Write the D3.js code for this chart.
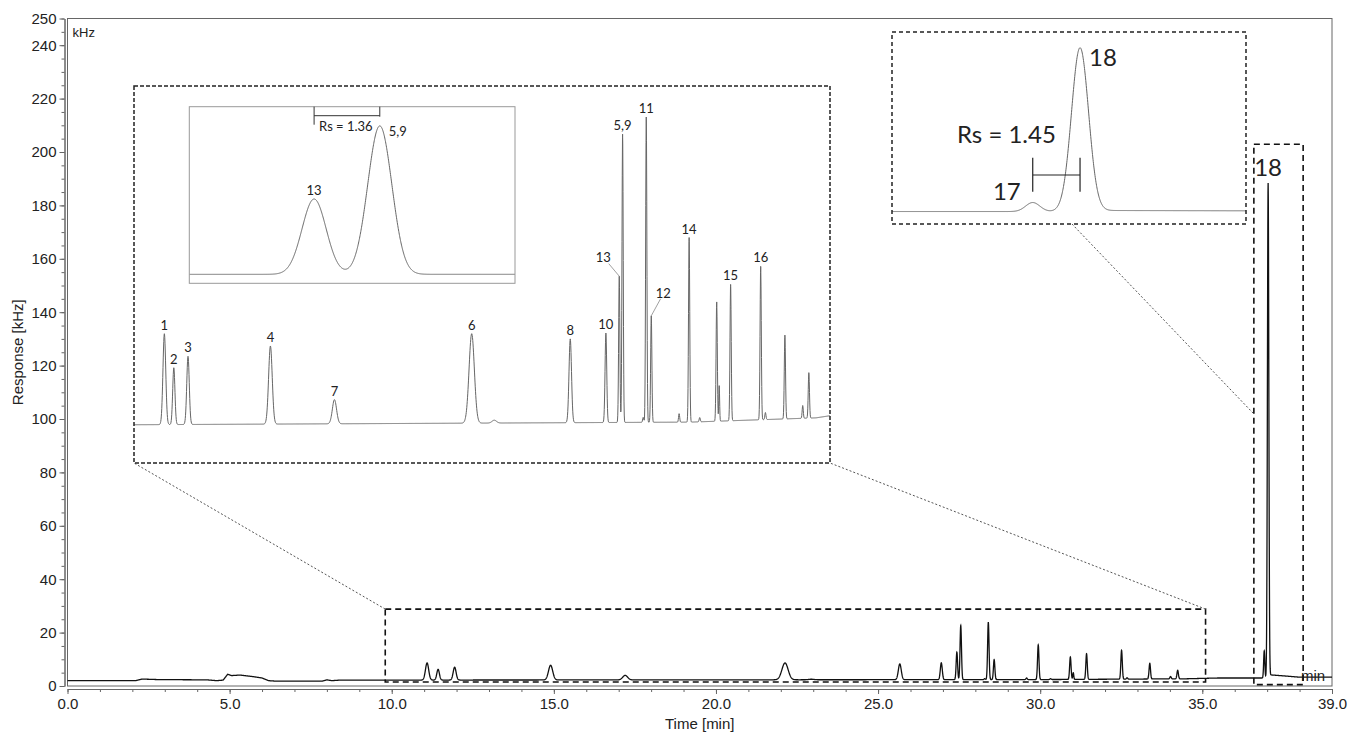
<!DOCTYPE html>
<html>
<head>
<meta charset="utf-8">
<script src="https://cdn.jsdelivr.net/npm/d3@7"></script>
<style>
  body { margin: 0; background: #fff; }
  .axis text { font-family: "Liberation Sans", Arial, sans-serif; font-size: 15px; fill: #222; }
  .axis path, .axis line { stroke: #666; }
  .lbl { font-family: Lato, "Open Sans", sans-serif; fill: #222; }
</style>
</head>
<body>
<div id="chart"></div>
<script>
// axis ranges and ticks
const timeRange = [0, 39];
const responseRange = [0, 250];
const timeTicks = [0, 5, 10, 15, 20, 25, 30, 35, 39];
const responseTicks = [0, 20, 40, 60, 80, 100, 120, 140, 160, 180, 200, 220, 240, 250];

// baseline of the trace: [time min, response kHz]
const baseline = [
  [0, 2.0], [2.1, 2.0], [2.3, 2.6], [2.8, 2.4], [4.3, 2.3], [4.6, 2.0], [4.8, 2.2],
  [4.94, 4.4], [5.06, 3.9], [5.32, 4.1], [5.73, 3.5], [6.0, 3.0], [6.2, 2.0],
  [6.45, 1.8], [7.85, 1.8], [8.0, 2.3], [8.15, 2.0], [8.4, 2.2], [30, 2.4],
  [34.5, 2.7], [35.5, 3.0], [36.95, 3.0], [37.06, 4.2], [37.5, 3.8], [38, 3.3], [39, 3.3]
];

// peaks: [retention time min, height above baseline kHz, peak sd min, label]
const peaks = [
  [11.09, 6.4, 0.05, "1"],
  [11.43, 4.0, 0.04, "2"],
  [11.94, 4.8, 0.045, "3"],
  [14.90, 5.5, 0.065, "4"],
  [17.20, 1.7, 0.075, "7"],
  [22.13, 6.3, 0.095, "6"],
  [22.94, 0.2, 0.08, ""],
  [25.67, 5.9, 0.045, "8"],
  [26.95, 6.3, 0.03, "10"],
  [27.43, 10.3, 0.022, "13"],
  [27.55, 20.3, 0.022, "5,9"],
  [28.29, 0.35, 0.02, ""],
  [28.40, 21.5, 0.022, "11"],
  [28.58, 7.5, 0.022, "12"],
  [29.58, 0.6, 0.02, ""],
  [29.94, 13.0, 0.022, "14"],
  [30.32, 0.3, 0.02, ""],
  [30.93, 8.4, 0.022, ""],
  [31.02, 2.5, 0.015, ""],
  [31.43, 9.6, 0.022, "15"],
  [32.51, 10.8, 0.022, "16"],
  [32.68, 0.5, 0.02, ""],
  [33.38, 5.9, 0.022, ""],
  [34.02, 0.9, 0.02, ""],
  [34.24, 3.2, 0.022, ""],
  [36.91, 10.2, 0.018, "17"],
  [37.03, 184.5, 0.0216, "18"]
];

// resolution between peak pairs
const resolutions = [["13", "5,9", 1.36], ["17", "18", 1.45]];

// zoomed windows marked on the main trace: [t0, t1, v0, v1]
const zoomMain = [9.8, 35.1, 1.5, 28.8];
const zoom18 = [36.59, 38.11, 0.5, 202.9];

// ---------- layout ----------
const W = 1348, H = 733;
const plot = { left: 67.5, right: 1332, top: 18.5, bottom: 686 };
const inset1 = { x: 134, y: 86, w: 696, h: 377, t: [10, 35], v: [-0.48, 26.07] };
const inner = { x: 189.3, y: 106.7, w: 325.7, h: 176.6, t: [27.202, 27.797], v: [1.15, 25.3] };
const inset2 = { x: 892, y: 32, w: 354, h: 192, t: [36.553, 37.451], v: [-11.1, 206.1] };

const svg = d3.select("#chart").append("svg")
  .attr("width", W)
  .attr("height", H);

const x = d3.scaleLinear().domain(timeRange).range([plot.left, plot.right]);
const y = d3.scaleLinear().domain(responseRange).range([plot.bottom, plot.top]);

const base = d3.scaleLinear()
  .domain(baseline.map(d => d[0]))
  .range(baseline.map(d => d[1]))
  .clamp(true);

function signal(t) {
  let v = base(t);
  peaks.forEach(p => {
    const z = (t - p[0]) / p[2];
    if (Math.abs(z) < 9) v += p[1] * Math.exp(-0.5 * z * z);
  });
  return v;
}

// sample the trace over a time window, apex times included
function trace(t0, t1, n) {
  const ts = d3.range(n + 1).map(i => t0 + i * (t1 - t0) / n);
  peaks.forEach(p => { if (p[0] > t0 && p[0] < t1) ts.push(p[0]); });
  ts.sort((a, b) => a - b);
  return ts.map(t => [t, signal(t)]);
}

const peakByLabel = {};
peaks.forEach(p => { if (p[3]) peakByLabel[p[3]] = p; });

// ---------- main frame and axes ----------
svg.append("rect")
  .attr("x", plot.left).attr("y", plot.top)
  .attr("width", plot.right - plot.left).attr("height", plot.bottom - plot.top)
  .attr("fill", "none").attr("stroke", "#666").attr("stroke-width", 1);

const xAxis = d3.axisBottom(x).tickValues(timeTicks).tickFormat(d3.format(".1f"))
  .tickSize(5).tickSizeOuter(0).tickPadding(4);
svg.append("g").attr("class", "axis")
  .attr("transform", `translate(0, ${plot.bottom + 3})`)
  .call(xAxis);
svg.append("g").attr("class", "axis")
  .attr("transform", `translate(0, ${plot.bottom + 3})`)
  .call(d3.axisBottom(x).tickValues(d3.range(0, 40, 1)).tickFormat("").tickSize(3).tickSizeOuter(0));

const yAxis = d3.axisLeft(y).tickValues(responseTicks).tickFormat(d3.format("d"))
  .tickSize(5).tickSizeOuter(0).tickPadding(3);
svg.append("g").attr("class", "axis")
  .attr("transform", `translate(${plot.left - 3}, 0)`)
  .call(yAxis);
svg.append("g").attr("class", "axis")
  .attr("transform", `translate(${plot.left - 3}, 0)`)
  .call(d3.axisLeft(y).tickValues(d3.range(0, 251, 5)).tickFormat("").tickSize(3).tickSizeOuter(0));

svg.selectAll(".axis path").attr("stroke", "#666");

svg.append("text")
  .attr("x", (plot.left + plot.right) / 2).attr("y", 729)
  .attr("text-anchor", "middle")
  .style("font-family", "Liberation Sans, Arial, sans-serif").style("font-size", "15px").attr("fill", "#222")
  .text("Time [min]");

svg.append("text")
  .attr("transform", `translate(23, ${(plot.top + plot.bottom) / 2}) rotate(-90)`)
  .attr("text-anchor", "middle")
  .style("font-family", "Liberation Sans, Arial, sans-serif").style("font-size", "15px").attr("fill", "#222")
  .text("Response [kHz]");

svg.append("text")
  .attr("x", plot.left + 5).attr("y", 37)
  .style("font-family", "Liberation Sans, Arial, sans-serif").style("font-size", "13px").attr("fill", "#222")
  .text("kHz");

// ---------- main trace ----------
const mainLine = d3.line().x(d => x(d[0])).y(d => y(d[1]));
svg.append("path")
  .datum(trace(timeRange[0], timeRange[1], 8000))
  .attr("d", mainLine)
  .attr("fill", "none").attr("stroke", "#111").attr("stroke-width", 1.3);

svg.append("text")
  .attr("x", plot.right - 31).attr("y", 681)
  .style("font-family", "Liberation Sans, Arial, sans-serif").style("font-size", "15px").attr("fill", "#222")
  .text("min");

const p18 = peakByLabel["18"];
svg.append("text").attr("class", "lbl")
  .attr("x", x(p18[0])).attr("y", y(signal(p18[0])) - 7)
  .attr("text-anchor", "middle").style("font-size", "24px")
  .text("18");

// zoom windows on the main trace
function zoomRect(z) {
  svg.append("rect")
    .attr("x", x(z[0])).attr("y", y(z[3]))
    .attr("width", x(z[1]) - x(z[0])).attr("height", y(z[2]) - y(z[3]))
    .attr("fill", "none").attr("stroke", "#111").attr("stroke-width", 1.6)
    .attr("stroke-dasharray", "6,4");
}
zoomRect(zoomMain);
zoomRect(zoom18);

// dotted leader lines
const connectors = [
  [x(zoomMain[0]), y(zoomMain[3]), inset1.x, inset1.y + inset1.h],
  [x(zoomMain[1]), y(zoomMain[3]), inset1.x + inset1.w, inset1.y + inset1.h],
  [1072, inset2.y + inset2.h, x(zoom18[0]), y(101.9)]
];
svg.selectAll(".conn").data(connectors).enter().append("line")
  .attr("x1", d => d[0]).attr("y1", d => d[1]).attr("x2", d => d[2]).attr("y2", d => d[3])
  .attr("stroke", "#555").attr("stroke-width", 1).attr("stroke-dasharray", "2,2");

// ---------- inset builder ----------
function makeInset(box, dash) {
  const g = svg.append("g");
  const id = "clip" + Math.round(box.x);
  svg.append("clipPath").attr("id", id).append("rect")
    .attr("x", box.x).attr("y", box.y).attr("width", box.w).attr("height", box.h);
  g.append("rect")
    .attr("x", box.x).attr("y", box.y).attr("width", box.w).attr("height", box.h)
    .attr("fill", "#fff").attr("stroke", "none");
  const sx = d3.scaleLinear().domain(box.t).range([box.x, box.x + box.w]);
  const sy = d3.scaleLinear().domain(box.v).range([box.y + box.h, box.y]);
  g.append("path")
    .datum(trace(box.t[0], box.t[1], Math.round(box.w * 4)))
    .attr("clip-path", `url(#${id})`)
    .attr("d", d3.line().x(d => sx(d[0])).y(d => sy(d[1])))
    .attr("fill", "none").attr("stroke", "#666").attr("stroke-width", 1);
  const frame = g.append("rect")
    .attr("x", box.x).attr("y", box.y).attr("width", box.w).attr("height", box.h)
    .attr("fill", "none");
  if (dash) frame.attr("stroke", "#222").attr("stroke-width", 1.5).attr("stroke-dasharray", dash);
  else frame.attr("stroke", "#999").attr("stroke-width", 1);
  return { g, sx, sy };
}

// ---------- inset 1: 10-35 min ----------
const a = makeInset(inset1, "4,2");
const labelNudge = {
  "13": { dx: -16, dy: -14, lx: -10.5, ly: -12.5 },
  "12": { dx: 12, dy: -17.5, lx: 9.3, ly: -17 }
};
peaks.filter(p => p[3] && p[0] > inset1.t[0] && p[0] < inset1.t[1]).forEach(p => {
  const px = a.sx(p[0]), py = a.sy(signal(p[0]));
  const n = labelNudge[p[3]] || { dx: 0, dy: -4 };
  if (n.lx !== undefined) {
    a.g.append("line")
      .attr("x1", px).attr("y1", py).attr("x2", px + n.lx).attr("y2", py + n.ly)
      .attr("stroke", "#888").attr("stroke-width", 0.8);
  }
  a.g.append("text").attr("class", "lbl")
    .attr("x", px + n.dx).attr("y", py + n.dy)
    .attr("text-anchor", "middle").style("font-size", "13px")
    .text(p[3]);
});

// ---------- inner inset: 13 / 5,9 ----------
const b = makeInset(inner, null);
const fmtRs = d3.format(".2f");
{
  const p13 = peakByLabel["13"], p59 = peakByLabel["5,9"];
  const x13 = b.sx(p13[0]), x59 = b.sx(p59[0]);
  b.g.append("text").attr("class", "lbl")
    .attr("x", x13).attr("y", b.sy(signal(p13[0])) - 4)
    .attr("text-anchor", "middle").style("font-size", "13px").text("13");
  b.g.append("text").attr("class", "lbl")
    .attr("x", x59 + 9).attr("y", b.sy(signal(p59[0])) + 10)
    .style("font-size", "13px").text("5,9");
  const yb = inner.y + 9;
  b.g.append("path")
    .attr("d", `M${x13},${inner.y}V${inner.y + 18}M${x13},${yb}H${x59}M${x59},${inner.y}V${inner.y + 10}`)
    .attr("fill", "none").attr("stroke", "#333").attr("stroke-width", 1);
  b.g.append("text").attr("class", "lbl")
    .attr("x", x13 + 5).attr("y", inner.y + 24)
    .style("font-size", "13px").text("Rs = " + fmtRs(resolutions[0][2]));
}

// ---------- inset 2: peaks 17 / 18 ----------
const c = makeInset(inset2, "4,3");
{
  const p17 = peakByLabel["17"];
  const x17 = c.sx(p17[0]), x18 = c.sx(p18[0]);
  c.g.append("text").attr("class", "lbl")
    .attr("x", x17 - 12).attr("y", c.sy(signal(p17[0])) - 3)
    .attr("text-anchor", "end").style("font-size", "24px").text("17");
  c.g.append("text").attr("class", "lbl")
    .attr("x", x18 + 9).attr("y", c.sy(signal(p18[0])) + 18)
    .style("font-size", "24px").text("18");
  c.g.append("path")
    .attr("d", `M${x17},157.7V191.7M${x17},175H${x18}M${x18},157.7V191.7`)
    .attr("fill", "none").attr("stroke", "#222").attr("stroke-width", 1.2);
  c.g.append("text").attr("class", "lbl")
    .attr("x", 957).attr("y", 143)
    .style("font-size", "24px").text("Rs = " + fmtRs(resolutions[1][2]));
}
</script>
</body>
</html>
